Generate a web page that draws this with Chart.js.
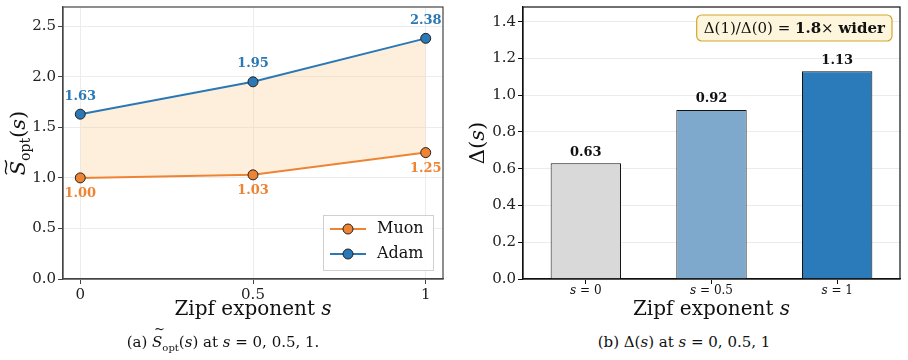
<!DOCTYPE html>
<html>
<head>
<meta charset="utf-8">
<script src="https://cdn.jsdelivr.net/npm/chart.js@4.4.1/dist/chart.umd.min.js"></script>
<style>
  body { margin: 0; background: #fff; width: 908px; height: 360px; position: relative; overflow: hidden; }
  #wa { position: absolute; left: 0; top: 0; width: 450px; height: 325px; }
  #wb { position: absolute; left: 455px; top: 0; width: 453px; height: 325px; }
  .cap { position: absolute; top: 333px; font-family: "DejaVu Serif", "Liberation Serif", serif; font-size: 15px; color: #111; white-space: nowrap; transform: translateX(-50%); }
  .cap i { font-style: italic; }
  .tl { position: relative; display: inline-block; }
  .tl::before { content: "~"; position: absolute; left: 2px; top: -12px; font-style: normal; font-size: 13px; }
</style>
</head>
<body>
<div id="wa"><canvas id="chartA"></canvas></div>
<div id="wb"><canvas id="chartB"></canvas></div>
<div class="cap" style="left:223px">(a) <i class="tl">S</i><sub style="font-size:10px">opt</sub>(<i>s</i>) at <i>s</i> = 0, 0.5, 1.</div>
<div class="cap" style="left:684px">(b) &Delta;(<i>s</i>) at <i>s</i> = 0, 0.5, 1</div>
<script>
// data
const zipfS = [0, 0.5, 1];
const muonVals = [1.00, 1.03, 1.25];
const adamVals = [1.63, 1.95, 2.38];
const barLabels = ['s = 0', 's = 0.5', 's = 1'];
const deltaVals = [0.63, 0.92, 1.13];

const SERIF = "'DejaVu Serif', serif";
const ORANGE = '#ee8433';
const BLUE = '#2a78b5';
const GRID = '#ececec';

// draws "Zipf exponent s" with italic s
function xTitle(ctx, cx, y) {
  ctx.save();
  ctx.fillStyle = '#111';
  ctx.textBaseline = 'middle';
  ctx.font = '20px ' + SERIF;
  const a = 'Zipf exponent ';
  const wa = ctx.measureText(a).width;
  ctx.font = 'italic 20px ' + SERIF;
  const wb = ctx.measureText('s').width;
  let x = cx - (wa + wb) / 2;
  ctx.font = '20px ' + SERIF;
  ctx.textAlign = 'left';
  ctx.fillText(a, x, y);
  ctx.font = 'italic 20px ' + SERIF;
  ctx.fillText('s', x + wa, y);
  ctx.restore();
}

function boxPlugin(color) {
  return {
    id: 'box',
    afterDraw(chart) {
      const a = chart.chartArea, ctx = chart.ctx;
      ctx.save();
      ctx.strokeStyle = color;
      ctx.lineWidth = 1.2;
      ctx.strokeRect(a.left, a.top, a.right - a.left, a.bottom - a.top);
      ctx.restore();
    }
  };
}

// no extra label padding so the plot box sits where layout.padding says
function fixY(width) {
  return (s) => { s.width = width; s.paddingTop = 0; s.paddingBottom = 0; };
}

// Graph a
const chartA = new Chart(document.getElementById('chartA'), {
  type: 'line',
  data: {
    datasets: [{
      label: 'Muon',
      data: zipfS.map((s, i) => ({ x: s, y: muonVals[i] })),
      borderColor: ORANGE,
      backgroundColor: ORANGE,
      pointBackgroundColor: ORANGE,
      pointBorderColor: '#222',
      pointBorderWidth: 1,
      pointRadius: 5,
      borderWidth: 2,
      fill: false
    }, {
      label: 'Adam',
      data: zipfS.map((s, i) => ({ x: s, y: adamVals[i] })),
      borderColor: BLUE,
      backgroundColor: 'rgba(253, 205, 150, 0.32)',
      pointBackgroundColor: BLUE,
      pointBorderColor: '#222',
      pointBorderWidth: 1,
      pointRadius: 5,
      borderWidth: 2,
      fill: '-1'
    }]
  },
  options: {
    responsive: true,
    maintainAspectRatio: false,
    animation: false,
    layout: { padding: { top: 7, right: 7, left: 0, bottom: 0 } },
    plugins: { legend: { display: false }, tooltip: { enabled: false } },
    scales: {
      x: {
        type: 'linear', min: -0.05, max: 1.05,
        afterBuildTicks: (s) => { s.ticks = zipfS.map(v => ({ value: v })); },
        afterFit: (s) => { s.height = 46; },
        ticks: { font: { family: SERIF, size: 15 }, color: '#222', padding: 2,
                 callback: (v) => String(v) },
        grid: { color: GRID, tickColor: '#444', tickLength: 5 },
        border: { color: '#444', width: 1.2 }
      },
      y: {
        min: 0, max: 2.69,
        afterFit: fixY(63),
        ticks: { stepSize: 0.5, includeBounds: false, font: { family: SERIF, size: 15 }, color: '#222', padding: 2,
                 callback: (v) => v.toFixed(1) },
        grid: { color: GRID, tickColor: '#444', tickLength: 5 },
        border: { color: '#444', width: 1.2 }
      }
    }
  },
  plugins: [boxPlugin('#444'), {
    id: 'decorA',
    afterDraw(chart) {
      const ctx = chart.ctx, a = chart.chartArea;
      const xs = chart.scales.x, ys = chart.scales.y;
      ctx.save();
      ctx.font = 'bold 13px ' + SERIF;
      ctx.textAlign = 'center';
      ctx.textBaseline = 'middle';
      zipfS.forEach((s, i) => {
        const px = xs.getPixelForValue(s);
        ctx.fillStyle = BLUE;
        ctx.fillText(adamVals[i].toFixed(2), px, ys.getPixelForValue(adamVals[i]) - 18);
        ctx.fillStyle = ORANGE;
        ctx.fillText(muonVals[i].toFixed(2), px, ys.getPixelForValue(muonVals[i]) + 16);
      });
      // legend
      const lx = a.right - 120, ly = a.bottom - 64, lw = 110, lh = 55;
      ctx.fillStyle = 'rgba(255,255,255,0.9)';
      ctx.fillRect(lx, ly, lw, lh);
      ctx.strokeStyle = '#d0d0d0';
      ctx.lineWidth = 1;
      ctx.strokeRect(lx + 0.5, ly + 0.5, lw, lh);
      [[ORANGE, 'Muon'], [BLUE, 'Adam']].forEach(([c, t], k) => {
        const yy = ly + 14 + k * 25;
        ctx.strokeStyle = c; ctx.lineWidth = 2;
        ctx.beginPath(); ctx.moveTo(lx + 7, yy); ctx.lineTo(lx + 43, yy); ctx.stroke();
        ctx.beginPath(); ctx.arc(lx + 25, yy, 5, 0, Math.PI * 2);
        ctx.fillStyle = c; ctx.fill();
        ctx.strokeStyle = '#222'; ctx.lineWidth = 1; ctx.stroke();
        ctx.fillStyle = '#111';
        ctx.font = '16px ' + SERIF;
        ctx.textAlign = 'left';
        ctx.fillText(t, lx + 54, yy);
      });
      // axis titles
      xTitle(ctx, (a.left + a.right) / 2, 310);
      ctx.translate(20, (a.top + a.bottom) / 2);
      ctx.rotate(-Math.PI / 2);
      ctx.fillStyle = '#111';
      ctx.textAlign = 'left';
      ctx.font = 'italic 21px ' + SERIF;
      const w1 = ctx.measureText('S').width;
      ctx.font = '14px ' + SERIF;
      const w2 = ctx.measureText('opt').width;
      ctx.font = '21px ' + SERIF;
      const w3 = ctx.measureText('()').width;
      ctx.font = 'italic 21px ' + SERIF;
      const w4 = ctx.measureText('s').width;
      let x0 = -(w1 + w2 + w3 + w4) / 2;
      ctx.font = 'italic 21px ' + SERIF;
      ctx.fillText('S', x0, 0);
      // wide tilde over S
      ctx.strokeStyle = '#111';
      ctx.lineWidth = 1.3;
      ctx.beginPath();
      const tx = x0 + 1, ty = -14;
      ctx.moveTo(tx, ty + 1);
      ctx.bezierCurveTo(tx + 4, ty - 4, tx + 8, ty + 4, tx + 14, ty - 1);
      ctx.stroke();
      x0 += w1;
      ctx.font = '14px ' + SERIF;
      ctx.fillText('opt', x0, 6); x0 += w2;
      ctx.font = '21px ' + SERIF;
      ctx.fillText('(', x0, 0); x0 += ctx.measureText('(').width;
      ctx.font = 'italic 21px ' + SERIF;
      ctx.fillText('s', x0, 0); x0 += w4;
      ctx.font = '21px ' + SERIF;
      ctx.fillText(')', x0, 0);
      ctx.restore();
    }
  }]
});

// Graph b
const chartB = new Chart(document.getElementById('chartB'), {
  type: 'bar',
  data: {
    labels: barLabels,
    datasets: [{
      label: 'Delta',
      data: deltaVals,
      backgroundColor: ['#d9d9d9', '#7fa9cc', '#2b7bba'],
      borderColor: '#111',
      borderWidth: 1,
      barPercentage: 0.56,
      categoryPercentage: 1
    }]
  },
  options: {
    responsive: true,
    maintainAspectRatio: false,
    animation: false,
    layout: { padding: { top: 7, right: 8, left: 0, bottom: 0 } },
    plugins: { legend: { display: false }, tooltip: { enabled: false } },
    scales: {
      x: {
        afterFit: (s) => { s.height = 46; },
        ticks: { display: false },
        grid: { display: true, drawOnChartArea: false, offset: false, tickColor: '#111', tickLength: 5 },
        border: { color: '#111', width: 1.2 }
      },
      y: {
        min: 0, max: 1.48,
        afterFit: fixY(68),
        ticks: { stepSize: 0.2, includeBounds: false, font: { family: SERIF, size: 15 }, color: '#222', padding: 2,
                 callback: (v) => v.toFixed(1) },
        grid: { color: GRID, tickColor: '#111', tickLength: 5 },
        border: { color: '#111', width: 1.2 }
      }
    }
  },
  plugins: [boxPlugin('#111'), {
    id: 'decorB',
    afterDraw(chart) {
      const ctx = chart.ctx, a = chart.chartArea;
      const xs = chart.scales.x, ys = chart.scales.y;
      ctx.save();
      ctx.textBaseline = 'middle';
      deltaVals.forEach((v, i) => {
        const px = xs.getPixelForValue(i);
        ctx.fillStyle = '#111';
        ctx.textAlign = 'center';
        ctx.font = 'bold 13px ' + SERIF;
        ctx.fillText(v.toFixed(2), px, ys.getPixelForValue(v) - 11);
        // tick label: italic s
        const parts = barLabels[i].split(' = ');
        ctx.font = 'italic 12px ' + SERIF;
        const ws = ctx.measureText('s').width;
        ctx.font = '12px ' + SERIF;
        const wr = ctx.measureText(' = ' + parts[1]).width;
        let x0 = px - (ws + wr) / 2;
        ctx.textAlign = 'left';
        ctx.font = 'italic 12px ' + SERIF;
        ctx.fillText('s', x0, 291);
        ctx.font = '12px ' + SERIF;
        ctx.fillText(' = ' + parts[1], x0 + ws, 291);
      });
      // annotation box
      const segs = [['15px', 'normal', '\u0394(1)/\u0394(0) = '], ['15px', 'bold', '1.8'], ['15px', 'normal', '\u00d7 '], ['15px', 'bold', 'wider']];
      let tw = 0;
      segs.forEach(sg => { ctx.font = sg[1] + ' ' + sg[0] + ' ' + SERIF; tw += ctx.measureText(sg[2]).width; });
      const bx = a.right - 8 - tw - 14, by = a.top + 8, bw = tw + 14, bh = 26;
      ctx.beginPath();
      ctx.roundRect(bx, by, bw, bh, 5);
      ctx.fillStyle = '#fdf6dc';
      ctx.fill();
      ctx.strokeStyle = '#d4a52a';
      ctx.lineWidth = 1.2;
      ctx.stroke();
      let x1 = bx + 7;
      ctx.fillStyle = '#111';
      segs.forEach(sg => {
        ctx.font = sg[1] + ' ' + sg[0] + ' ' + SERIF;
        ctx.fillText(sg[2], x1, by + bh / 2 + 1);
        x1 += ctx.measureText(sg[2]).width;
      });
      // axis titles
      xTitle(ctx, (a.left + a.right) / 2, 310);
      ctx.translate(24, (a.top + a.bottom) / 2);
      ctx.rotate(-Math.PI / 2);
      ctx.textAlign = 'left';
      ctx.font = '21px ' + SERIF;
      const wA = ctx.measureText('\u0394(').width, wC = ctx.measureText(')').width;
      ctx.font = 'italic 21px ' + SERIF;
      const wB = ctx.measureText('s').width;
      let y0 = -(wA + wB + wC) / 2;
      ctx.font = '21px ' + SERIF;
      ctx.fillText('\u0394(', y0, 0);
      ctx.font = 'italic 21px ' + SERIF;
      ctx.fillText('s', y0 + wA, 0);
      ctx.font = '21px ' + SERIF;
      ctx.fillText(')', y0 + wA + wB, 0);
      ctx.restore();
    }
  }]
});
</script>
</body>
</html>
